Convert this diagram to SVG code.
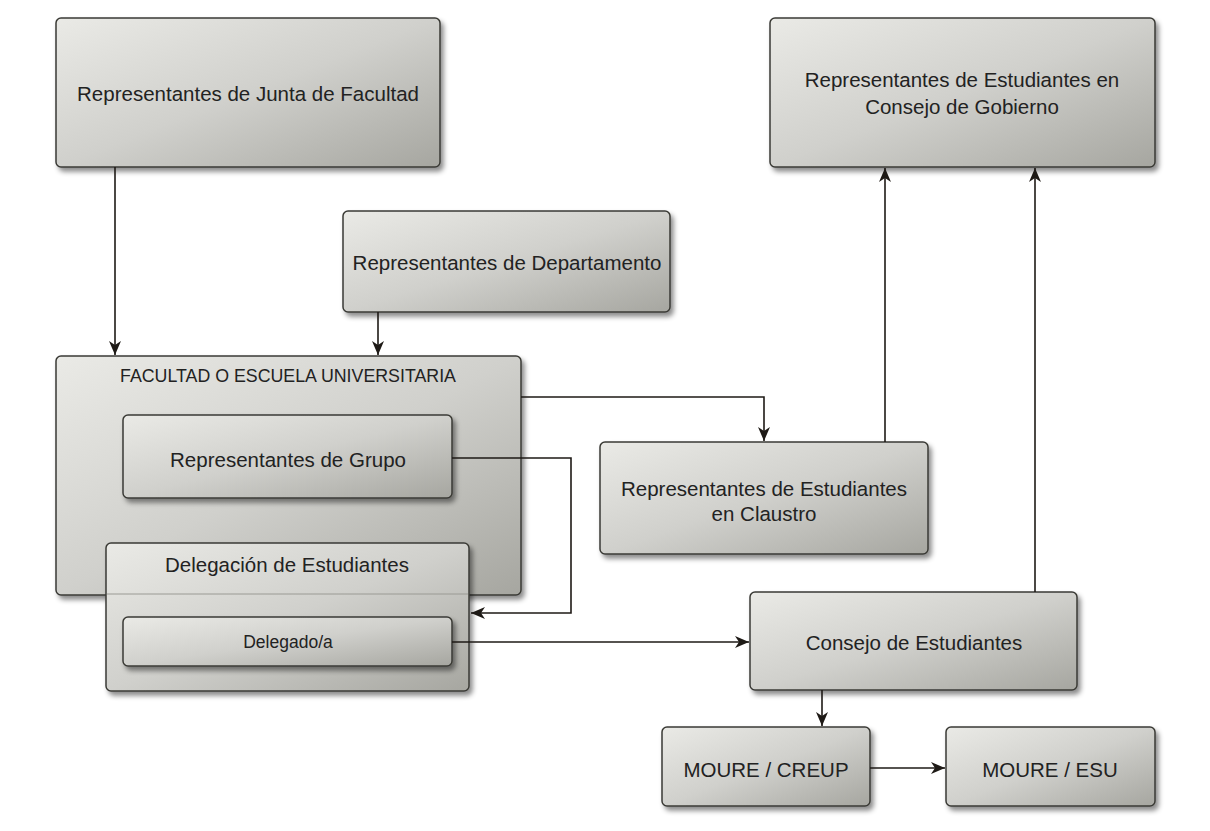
<svg xmlns="http://www.w3.org/2000/svg" width="1210" height="831" viewBox="0 0 1210 831">
<defs>
<linearGradient id="g" x1="0" y1="0" x2="1" y2="1">
<stop offset="0" stop-color="#eaeae6"/>
<stop offset="0.5" stop-color="#d0d0cc"/>
<stop offset="1" stop-color="#a6a6a0"/>
</linearGradient>
<filter id="sh" x="-10%" y="-10%" width="125%" height="130%">
<feDropShadow dx="3" dy="4" stdDeviation="2.5" flood-color="#000" flood-opacity="0.45"/>
</filter>
<marker id="arr" viewBox="0 0 14 12" refX="14" refY="6" markerWidth="14" markerHeight="12" markerUnits="userSpaceOnUse" orient="auto">
<path d="M0,0 L14,6 L0,12 L4,6 z" fill="#1e1a16"/>
</marker>
</defs>
<style>
.box{fill:url(#g);stroke:#3a3a36;stroke-width:1.5;filter:url(#sh)}
.t{font-family:"Liberation Sans",Arial,sans-serif;font-size:20.5px;fill:#222;text-anchor:middle}
.s{font-size:17.8px}
.xs{font-size:17.5px}
.c{fill:none;stroke:#1e1a16;stroke-width:1.6;marker-end:url(#arr)}
</style>
<rect width="1210" height="831" fill="#fff"/>

<g id="junta">
<rect class="box" x="56" y="18" width="384" height="149" rx="5"/>
<text class="t" x="248" y="101">Representantes de Junta de Facultad</text>
</g>
<g id="gobierno">
<rect class="box" x="770" y="18" width="385" height="149" rx="5"/>
<text class="t" x="962" y="87">Representantes de Estudiantes en</text>
<text class="t" x="962" y="114">Consejo de Gobierno</text>
</g>
<g id="departamento">
<rect class="box" x="343" y="211" width="327" height="101" rx="5"/>
<text class="t" x="507" y="270">Representantes de Departamento</text>
</g>
<g id="facultad">
<rect class="box" x="56" y="356" width="465" height="239" rx="5"/>
<text class="t s" x="288" y="382">FACULTAD O ESCUELA UNIVERSITARIA</text>
</g>
<g id="grupo">
<rect class="box" x="123" y="415" width="329" height="83" rx="5"/>
<text class="t" x="288" y="467">Representantes de Grupo</text>
</g>
<g id="delegacion">
<rect class="box" x="106" y="543" width="363" height="148" rx="5"/>
<line x1="107" y1="594" x2="468" y2="594" stroke="#9a9a94" stroke-width="1"/>
<text class="t" x="287" y="572">Delegación de Estudiantes</text>
</g>
<g id="delegado">
<rect class="box" x="123" y="617" width="329" height="49" rx="5"/>
<text class="t xs" x="288" y="648">Delegado/a</text>
</g>
<g id="claustro">
<rect class="box" x="600" y="442" width="328" height="112" rx="5"/>
<text class="t" x="764" y="496">Representantes de Estudiantes</text>
<text class="t" x="764" y="521">en Claustro</text>
</g>
<g id="consejo">
<rect class="box" x="750" y="592" width="327" height="98" rx="5"/>
<text class="t" x="914" y="650">Consejo de Estudiantes</text>
</g>
<g id="creup">
<rect class="box" x="662" y="727" width="208" height="79" rx="5"/>
<text class="t" x="766" y="777">MOURE / CREUP</text>
</g>
<g id="esu">
<rect class="box" x="946" y="727" width="209" height="79" rx="5"/>
<text class="t" x="1050" y="777">MOURE / ESU</text>
</g>

<g id="connectors">
<path class="c" d="M115,167 V355"/>
<path class="c" d="M378,312 V355"/>
<path class="c" d="M521,397 H764 V441"/>
<path class="c" d="M452,458 H571 V613 H471"/>
<path class="c" d="M452,642 H749"/>
<path class="c" d="M885,442 V168"/>
<path class="c" d="M1035,592 V168"/>
<path class="c" d="M822,690 V726"/>
<path class="c" d="M870,768 H945"/>
</g>
</svg>
